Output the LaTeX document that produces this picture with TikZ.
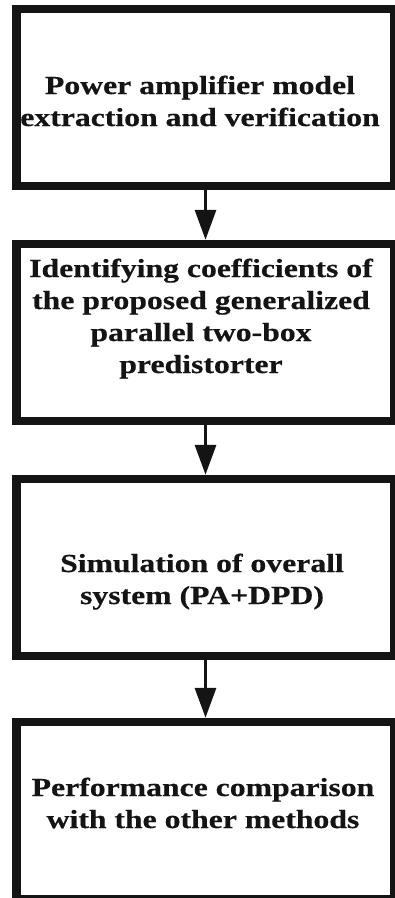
\documentclass[tikz,border=0pt]{standalone}
\usepackage{fontspec}
\setmainfont{Liberation Serif}[FakeStretch=1.22,BoldFeatures={FakeBold=0.5}]
\usetikzlibrary{arrows.meta}
\definecolor{ink}{HTML}{141414}
\tikzset{
  stepbox/.style={draw=ink, line width=8.5pt, rectangle, inner sep=0pt,
    minimum width=378pt, minimum height=177pt, fill=white},
  steptext/.style={anchor=base, align=center, text=ink, inner sep=0pt,
    font=\fontsize{26}{32}\selectfont\bfseries},
  flow/.style={draw=ink, line width=3.3pt,
    -{Triangle[width=21pt,length=30pt]}}
}
\begin{document}
\begin{tikzpicture}[x=1pt,y=-1pt]
\useasboundingbox (0,0) rectangle (395,898);
\node[stepbox] (b1) at (205.5,97.5) {};
\node[stepbox] (b2) at (205.5,332.5) {};
\node[stepbox] (b3) at (205.5,567.5) {};
\node[stepbox] (b4) at (205.5,810.5) {};
\node[steptext] (t1) at (200,126) {Power amplifier model\\extraction and verification};
\node[steptext] (t2) at (201,373) {Identifying coefficients of\\the proposed generalized\\parallel two-box\\predistorter};
\node[steptext] (t3) at (202,604) {Simulation of overall\\system (PA+DPD)};
\node[steptext] (t4) at (203,828) {Performance comparison\\with the other methods};
\draw[flow] (b1.south) -- (b2.north);
\draw[flow] (b2.south) -- (b3.north);
\draw[flow] (b3.south) -- (b4.north);
\end{tikzpicture}
\end{document}
